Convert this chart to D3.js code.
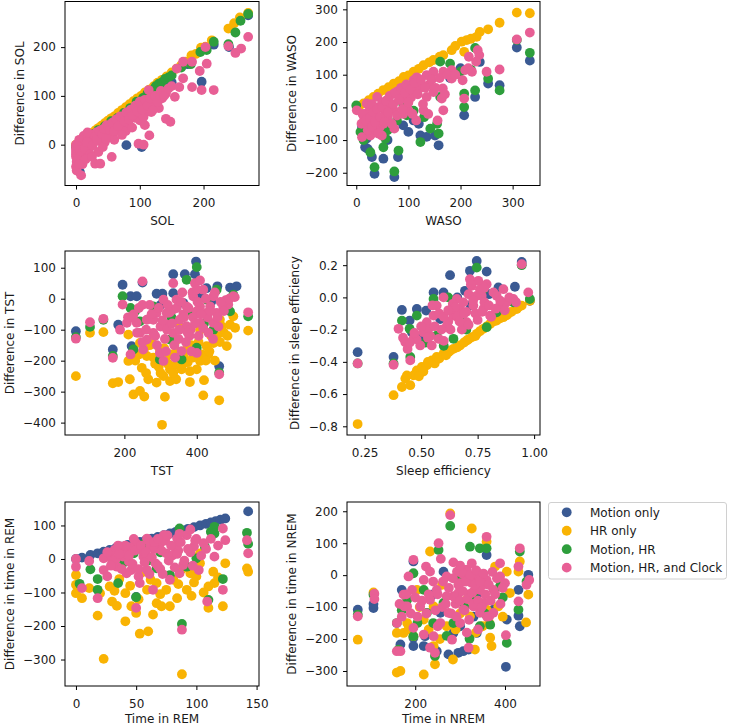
<!DOCTYPE html>
<html><head><meta charset="utf-8">
<script src="https://cdn.jsdelivr.net/npm/d3@7"></script>
<style>
html,body{margin:0;padding:0;background:#fff;}
svg text{font-family:"DejaVu Sans",sans-serif;font-size:12px;fill:#1a1a1a;}
</style></head><body>
<svg id="chart" width="729" height="726"></svg>
<script>
const seriesNames = ["Motion only", "HR only", "Motion, HR", "Motion, HR, and Clock"];
const seriesColors = ["#3a5a93", "#f9b303", "#2e9e3c", "#e85f95"];

// ---- SOL ----
const solMotion = [[6,-56],[79,-1],[103,-5],[197,129],[216,205],[150,128],[0,-2],[30,25],[60,50],[90,80],[120,110],[140,125],[175,165],[240,200],[270,265],[130,112]];
const solHR = [[0,0],[3,2],[6,5],[10,9],[15,14],[20,19],[25,24],[30,29],[35,34],[40,39],[45,44],[50,49],[55,54],[60,58],[66,65],[72,71],[78,77],[84,83],[90,89],[96,95],[102,100],[108,107],[115,113],[122,120],[128,127],[135,133],[142,140],[150,148],[158,156],[165,163],[172,170],[181,183],[188,186],[196,199],[203,201],[213,214],[239,238],[248,249],[257,261],[270,270]];
const solMotionHR = [[0,-5],[2,-20],[5,-28],[8,-30],[10,5],[15,10],[20,12],[28,22],[35,30],[45,38],[55,48],[65,55],[75,65],[85,75],[95,88],[105,96],[112,105],[120,112],[125,120],[130,125],[135,128],[140,135],[145,138],[150,142],[165,158],[180,165],[195,190],[205,194],[216,211],[239,206],[250,230],[258,254],[270,268],[100,60],[80,45],[60,30],[118,88]];
const solClock = [[0,0],[0,-5],[0,-10],[0,-15],[0,-20],[0,-25],[1,-35],[0,-45],[1,-53],[8,-63],[3,-30],[5,-8],[8,-2],[12,-5],[15,2],[20,-10],[25,5],[22,2],[28,12],[30,-39],[38,-39],[35,8],[40,15],[45,20],[50,25],[56,-25],[55,35],[58,22],[62,40],[65,45],[68,30],[70,50],[72,38],[75,55],[78,28],[80,60],[82,45],[85,65],[88,35],[90,70],[92,55],[95,75],[98,2],[100,78],[100,50],[103,62],[106,0],[106,57],[108,40],[110,85],[112,70],[114,112],[115,19],[118,67],[120,90],[125,80],[127,98],[130,75],[135,95],[141,105],[141,53],[148,47],[150,120],[155,98],[158,156],[162,118],[168,136],[168,170],[182,118],[182,170],[194,151],[197,112],[203,200],[205,166],[216,112],[239,202],[250,188],[259,197],[270,221],[18,15],[25,20],[32,25],[40,30],[45,5],[48,40],[35,-15],[42,-5],[60,10],[52,15],[12,18],[18,25],[5,10],
  [3,-3],[6,-12],[10,-15],[14,-8],[17,5],[22,-20],[26,-2],[30,18],[33,10],[37,28],[41,22],[44,33],[47,12],[50,38],[53,30],[57,45],[60,28],[63,52],[66,38],[69,58],[72,20],[76,48],[79,66],[83,52],[86,72],[89,60],[93,80],[96,68],[100,88],[104,72],[108,92],[112,80],[116,95],[120,70],[124,100],[128,88],[133,110],[138,100],[145,115],[10,-40],[15,-30],[25,-25],[5,-40]];

// ---- WASO ----
const wasoMotion = [[333,143],[308,183],[275,68],[253,73],[228,32],[207,-24],[237,139],[158,-116],[123,-86],[100,-75],[80,-152],[73,-213],[52,-157],[35,-203],[30,-152],[17,-122],[11,-60],[22,-127],[135,-90],[110,-40],[151,-86],[60,-100],[90,-55],[45,-80],[20,-95],[120,-50],[180,90],[200,120]];
const wasoHR = [[308,290],[333,288],[275,259],[253,239],[237,231],[231,216],[212,206],[202,201],[207,170],[183,175],[167,160],[148,145],[129,129],[110,109],[91,93],[72,73],[52,53],[33,32],[14,12],[5,3],[120,118],[100,98],[82,80],[62,62],[42,42],[24,22],[160,155],[190,188],[220,210],[140,138]];
const wasoMotionHR = [[333,167],[308,206],[275,52],[253,88],[228,52],[228,182],[207,1],[207,42],[180,134],[161,140],[161,32],[158,-80],[142,-65],[123,-106],[97,-24],[81,-132],[73,-196],[52,-122],[56,-96],[35,-183],[27,-137],[14,-100],[8,-75],[0,6],[46,-40],[78,-40],[155,-50],[130,-30],[110,-10],[60,-70],[25,-60],[90,10],[200,110],[220,115]];
const wasoClock = [[308,208],[333,229],[275,116],[250,109],[233,175],[236,160],[216,155],[222,109],[209,114],[204,83],[207,27],[183,114],[183,88],[167,109],[166,58],[164,27],[167,-9],[156,-40],[148,109],[135,99],[123,79],[110,83],[116,92],[97,63],[84,22],[100,-9],[72,-9],[73,-65],[49,-86],[27,-86],[11,-91],[1,-9],[17,-20],[40,32],[43,1],[59,22],[27,-50],[52,-50],[20,12],[72,42],[135,32],[129,-9],[148,47],[97,32],[110,52],[15,-30],[25,-10],[35,-25],[45,-60],[60,-30],[65,5],[80,50],[90,-20],[105,30],[120,60],[140,70],[30,10],[50,15],[38,-70],[22,-55],[115,-40],[88,40],[55,-10],[10,-50],
  [12,-20],[18,-40],[22,-70],[26,-30],[30,-60],[33,-15],[36,-45],[40,-5],[42,-80],[46,-30],[50,0],[54,-45],[57,20],[61,-15],[64,35],[68,-50],[71,10],[75,45],[78,-25],[82,25],[86,60],[89,-5],[93,45],[96,70],[100,15],[104,55],[108,-20],[112,75],[118,40],[124,85],[128,10],[132,60],[138,-20],[145,85],[152,60],[160,90],[170,40],[175,100],[190,100],[215,120],[230,140]];

// ---- TST ----
const tstMotion = [[66,-105],[168,-164],[195,45],[217,8],[234,8],[250,52],[289,16],[305,16],[335,79],[367,79],[395,79],[398,120],[427,34],[457,40],[492,36],[510,40],[462,-218],[220,-153],[225,-175],[183,-84],[335,18],[363,-14],[300,-20],[410,10],[440,-10]];
const tstHR = [[66,-250],[105,-110],[142,-108],[168,-273],[183,-269],[211,-201],[215,-260],[225,-309],[243,-298],[255,-316],[248,-223],[266,-260],[289,-271],[308,-250],[304,-407],[312,-317],[326,-228],[326,-266],[335,-218],[343,-260],[358,-228],[361,-212],[381,-269],[381,-234],[400,-228],[409,-201],[418,-312],[420,-263],[432,-180],[446,-143],[464,-140],[462,-328],[483,-153],[492,-84],[506,-94],[542,-103],[409,-100],[354,-89],[298,-164],[262,-185],[225,-175],[211,-116],[275,-132],[243,-143],[317,-185],[372,-164],[427,-153],[464,-68],[501,-57],[340,-140],[390,-190],[285,-210],[450,-200],[230,-200],[260,-240],[295,-220],[350,-200],[415,-180],[440,-120],[475,-110],
  [270,-150],[280,-190],[310,-160],[320,-210],[330,-180],[345,-170],[365,-190],[375,-205],[385,-150],[395,-165],[405,-140],[425,-200],[435,-170],[455,-120],[470,-90],[485,-120],[255,-160],[240,-180],[300,-240],[335,-240]];
const tstMotionHR = [[66,-124],[105,-91],[142,-68],[168,-185],[195,8],[217,-30],[225,-164],[358,-196],[372,61],[400,102],[400,-158],[427,-3],[455,29],[492,-41],[542,-57],[462,-239],[501,13],[446,-100],[298,-196],[326,-132],[280,-25],[243,-73],[230,-40],[330,-60],[380,-40],[420,-80]];
const tstClock = [[66,-129],[105,-76],[142,-65],[168,-191],[195,-19],[207,-78],[188,-100],[217,-180],[250,56],[335,50],[358,-169],[400,-175],[395,50],[409,59],[462,-244],[542,-44],[501,8],[308,-201],[298,-175],[262,-132],[252,-164],[280,-110],[317,-84],[335,-35],[363,-51],[390,8],[418,29],[446,8],[427,-46],[372,-89],[409,-78],[446,-78],[335,-110],[289,-46],[262,-68],[234,-78],[243,-110],[308,-3],[317,-46],[344,-3],[372,-25],[409,-25],[437,-25],[455,-46],[473,-25],[487,-19],[353,-68],[280,-68],[225,-51],[300,-90],[320,-20],[350,-130],[380,-120],[400,-40],[430,-60],[270,-20],[240,-30],[360,20],[390,-60],[460,-90],[480,-5],[250,-140],[210,-60],
  [275,-50],[285,-120],[295,-30],[305,-70],[312,-130],[318,-100],[325,-45],[332,-80],[338,-150],[345,-30],[352,-100],[357,-10],[365,-60],[370,-140],[377,-30],[383,-100],[388,20],[395,-80],[402,-10],[405,-120],[412,-50],[418,-95],[425,0],[432,-110],[438,-40],[445,-130],[450,20],[458,-60],[466,-10],[475,-40],[490,0],[505,5],[260,-100],[250,-20],[235,-110],[222,-60],[290,-150],[315,-170],[340,-190],[375,-110],[400,30],[385,-170]];

// ---- Sleep efficiency ----
const seMotion = [[0.219,-0.34],[0.378,-0.37],[0.415,-0.078],[0.449,-0.144],[0.481,-0.072],[0.522,-0.082],[0.555,0.031],[0.599,0.031],[0.628,0.138],[0.694,0.041],[0.716,0.165],[0.746,0.226],[0.79,0.16],[0.842,0.062],[0.915,0.066],[0.945,0.22],[0.981,-0.021],[0.496,-0.257],[0.459,-0.216],[0.584,-0.134],[0.66,0.0],[0.72,-0.05],[0.8,0.02]];
const seHR = [[0.219,-0.786],[0.378,-0.607],[0.415,-0.556],[0.43,-0.504],[0.452,-0.545],[0.481,-0.453],[0.503,-0.432],[0.525,-0.422],[0.547,-0.391],[0.569,-0.37],[0.599,-0.35],[0.621,-0.34],[0.643,-0.319],[0.672,-0.298],[0.702,-0.267],[0.724,-0.247],[0.746,-0.226],[0.775,-0.195],[0.805,-0.165],[0.834,-0.144],[0.864,-0.123],[0.893,-0.093],[0.923,-0.072],[0.945,-0.051],[0.981,-0.021],[0.466,-0.484],[0.437,-0.484],[0.51,-0.46],[0.49,-0.49],[0.56,-0.41],[0.58,-0.38],[0.61,-0.36],[0.66,-0.31],[0.69,-0.28],[0.74,-0.24],[0.79,-0.18],[0.85,-0.13],[0.9,-0.09],[0.53,-0.4],[0.63,-0.33],[0.71,-0.26],[0.76,-0.21],[0.82,-0.15],[0.88,-0.11],[0.93,-0.06]];
const seMotionHR = [[0.219,-0.41],[0.378,-0.41],[0.415,-0.144],[0.449,-0.195],[0.481,-0.113],[0.452,-0.37],[0.555,-0.01],[0.694,-0.154],[0.746,0.185],[0.775,0.051],[0.945,0.2],[0.981,-0.01],[0.643,-0.257],[0.569,-0.237],[0.79,-0.185],[0.834,-0.093],[0.908,-0.031],[0.6,-0.3],[0.52,-0.28],[0.7,-0.2],[0.86,-0.06],[0.62,0.0]];
const seClock = [[0.219,-0.41],[0.378,-0.418],[0.4,-0.195],[0.43,-0.278],[0.452,-0.391],[0.466,-0.257],[0.496,-0.298],[0.51,-0.216],[0.525,-0.154],[0.555,-0.113],[0.577,-0.257],[0.599,0],[0.614,-0.175],[0.643,-0.113],[0.672,-0.072],[0.702,-0.154],[0.724,0.072],[0.716,0.113],[0.753,0.103],[0.768,0.01],[0.79,0.082],[0.82,0.031],[0.849,-0.051],[0.878,-0.031],[0.908,-0.01],[0.974,0.031],[0.945,0.206],[0.569,-0.051],[0.658,-0.01],[0.731,-0.051],[0.775,-0.072],[0.805,-0.113],[0.547,-0.298],[0.533,-0.195],[0.636,-0.072],[0.687,-0.031],[0.746,0.01],[0.834,0.01],[0.864,0.051],[0.59,-0.2],[0.62,-0.15],[0.66,-0.12],[0.7,-0.09],[0.74,-0.1],[0.78,-0.03],[0.58,-0.1],[0.64,-0.04],[0.48,-0.26],[0.54,-0.24],[0.44,-0.32],[0.68,-0.2],
  [0.56,-0.18],[0.6,-0.12],[0.63,-0.2],[0.65,-0.06],[0.67,-0.15],[0.69,-0.1],[0.71,0.02],[0.71,-0.17],[0.73,-0.02],[0.75,-0.14],[0.76,0.05],[0.77,-0.09],[0.8,-0.05],[0.81,-0.12],[0.83,-0.07],[0.85,-0.02],[0.87,-0.08],[0.89,0.0],[0.92,-0.03],[0.6,-0.27],[0.53,-0.25],[0.5,-0.18],[0.47,-0.22],[0.45,-0.28],[0.42,-0.25],[0.55,-0.05],[0.62,-0.08],[0.72,0.08],[0.78,0.06]];

// ---- REM ----
const remMotion = [[0,0],[5,4],[12,12],[18,17],[23,22],[28,27],[33,32],[38,37],[43,42],[48,46],[53,51],[58,56],[63,61],[68,66],[73,71],[78,76],[83,81],[88,85],[93,90],[98,95],[103,100],[108,105],[112,109],[116,113],[120,117],[124,121],[143,142],[50,-113]];
const remHR = [[0,-48],[0,-77],[0,-102],[5,-117],[11,-87],[18,-169],[23,-298],[30,-127],[34,-140],[41,-186],[46,-141],[50,-161],[53,-223],[60,-216],[64,-166],[67,-132],[71,-141],[78,-141],[84,-117],[88,-344],[92,-92],[95,-43],[100,-52],[110,-146],[110,-82],[114,-38],[115,-72],[122,-141],[124,-13],[142,-28],[143,-38],[41,-102],[59,-92],[75,-92],[103,17],[103,-13],[62,-62],[20,-102],[28,-82],[81,-62],[67,-72],[36,-60],[55,-40],[88,-30],[96,-110],[45,-80],[32,-95],[52,-120],[70,-105],[85,-75],[98,-70],[106,-100],[118,-55]];
const remMotionHR = [[3,-74],[12,-31],[18,-60],[18,-92],[35,-72],[50,-114],[88,-194],[112,81],[115,96],[115,76],[122,-60],[142,78],[143,45],[110,-122],[78,-48],[100,2],[67,-28],[86,91],[92,-23],[107,37],[57,47],[48,17],[70,20],[40,-10],[60,-5]];
const remClock = [[0,0],[0,-23],[5,-87],[11,-6],[18,-117],[23,2],[23,-33],[26,-52],[28,17],[32,27],[37,37],[39,7],[44,-8],[46,-33],[50,47],[50,-146],[52,-52],[56,7],[59,61],[62,37],[64,-92],[66,-13],[70,47],[73,71],[75,17],[78,-62],[81,37],[84,61],[88,-211],[89,-18],[92,71],[95,88],[98,37],[102,-33],[106,47],[109,-127],[115,7],[122,91],[122,-92],[124,56],[142,56],[143,17],[53,-72],[59,-33],[34,-23],[42,-43],[86,-43],[40,20],[55,25],[65,30],[80,10],[95,20],[60,55],[70,-30],[45,35],[30,-5],[100,60],[85,25],
  [33,0],[36,15],[38,-30],[41,40],[44,10],[47,-15],[49,25],[52,-30],[54,40],[57,-10],[58,20],[61,-45],[63,5],[65,50],[68,-20],[71,25],[72,-45],[74,55],[77,-5],[79,40],[82,-25],[84,15],[87,50],[90,-5],[93,30],[97,-20],[99,55],[104,10],[108,30],[112,60],[118,40],[26,20],[29,-20],[35,40],[48,60],[68,60],[76,70],[86,75]];

// ---- NREM ----
const nremMotion = [[72,-108],[107,-103],[107,-90],[170,-46],[167,-217],[196,-222],[219,-222],[196,43],[248,-238],[274,-248],[296,-243],[307,-238],[319,-233],[337,-181],[359,63],[341,-56],[374,-108],[404,-139],[402,-287],[430,-46],[433,-160],[452,1],[430,-127],[263,11],[285,-181],[222,-191],[196,-196],[256,-118],[300,-160],[330,-130],[240,-60]];
const nremHR = [[72,-202],[107,-54],[159,-305],[167,-300],[219,-311],[159,-181],[174,-181],[196,-191],[233,74],[241,-222],[244,-279],[278,193],[284,-264],[326,146],[333,-233],[359,105],[367,-196],[370,-222],[378,27],[404,11],[433,43],[430,11],[452,-61],[447,-148],[344,-15],[322,-129],[270,-160],[219,-139],[204,-46],[315,-77],[359,-108],[241,-98],[182,-150],[385,-98],[411,-56],[300,-120],[260,-30],[350,-160],[230,-170],[390,-20],[185,-170],[210,-100],[255,-200],[290,-170],[335,-180],[365,-150],[395,-130]];
const nremMotionHR = [[72,-124],[107,-61],[159,-150],[163,-233],[196,-191],[196,6],[252,79],[278,154],[244,-253],[322,89],[344,84],[359,84],[321,-199],[367,-155],[404,-212],[433,74],[430,-108],[448,-20],[344,-160],[285,-150],[226,-118],[182,-77],[389,-35],[300,-15],[263,-87],[330,-66],[219,-46],[270,-190],[310,-100],[240,-150],[170,-110],[205,-150],[355,-120],[395,-70]];
const nremClock = [[72,-129],[109,-58],[109,-75],[159,-150],[159,-238],[167,-238],[185,-4],[174,-61],[176,-98],[196,48],[196,-165],[219,-186],[224,27],[233,11],[233,-227],[244,-243],[241,-191],[252,100],[257,51],[256,-150],[270,-4],[278,188],[282,-202],[293,11],[300,-25],[315,17],[326,37],[319,-227],[339,-41],[344,-46],[359,120],[365,-129],[389,37],[400,-25],[402,-188],[430,27],[430,-82],[433,84],[448,-30],[454,-15],[211,-98],[233,-77],[285,-66],[307,-108],[330,-98],[352,-87],[374,-46],[389,-4],[270,-66],[248,-46],[182,-98],[193,-46],[219,-15],[304,6],[337,-4],[359,-15],[326,-25],[296,-56],[274,-118],[300,-150],[344,-118],[374,-118],[320,-60],[290,-90],[310,0],[260,-100],[350,-30],
  [262,-20],[268,-90],[275,-40],[280,-120],[284,-10],[288,-70],[292,-130],[296,-30],[300,-80],[303,10],[306,-50],[310,-110],[313,-20],[316,-75],[320,-140],[323,0],[327,-55],[330,-90],[333,-30],[336,15],[340,-80],[344,-20],[348,-100],[352,5],[356,-60],[360,-130],[364,-30],[368,-80],[372,10],[378,-60],[382,-10],[390,-90],[395,-40],[250,-60],[245,-110],[240,-20],[230,-60],[225,-120],[215,-80],[205,-130],[200,-70],[190,-120],[180,-60],[170,-130],[165,-90],[300,30],[285,40],[315,-180],[340,-170],[250,-160]];

// ---- panels ----
const panelXLabels = ["SOL", "WASO", "TST", "Sleep efficiency", "Time in REM", "Time in NREM"];
const panelYLabels = ["Difference in SOL", "Difference in WASO", "Difference in TST", "Difference in sleep efficiency", "Difference in time in REM", "Difference in time in NREM"];
const panelXTicks = [[0,100,200],[0,100,200,300],[200,400],[0.25,0.5,0.75,1.0],[0,50,100,150],[200,400]];
const panelYTicks = [[0,100,200],[-200,-100,0,100,200,300],[-400,-300,-200,-100,0,100],[-0.8,-0.6,-0.4,-0.2,0.0,0.2],[-300,-200,-100,0,100],[-300,-200,-100,0,100,200]];
const panelData = [
  [solMotion, solHR, solMotionHR, solClock],
  [wasoMotion, wasoHR, wasoMotionHR, wasoClock],
  [tstMotion, tstHR, tstMotionHR, tstClock],
  [seMotion, seHR, seMotionHR, seClock],
  [remMotion, remHR, remMotionHR, remClock],
  [nremMotion, nremHR, nremMotionHR, nremClock]
];
// axis limits (as matplotlib auto-scaled them)
const panelXDomain = [[-17.3,287],[-17.8,352.5],[35.9,572],[0.172,1.026],[-9.1,152],[48,478]];
const panelYDomain = [[-83.7,293.5],[-239,324],[-440,154],[-0.854,0.288],[-379,170],[-347,229]];
const xFormats = [",d", ",d", ",d", ".2f", ",d", ",d"];
const yFormats = [",d", ",d", ",d", ".1f", ",d", ",d"];

// layout
const colLeft = [65, 347];
const colWidth = [194, 193];
const rowTop = [1.5, 251, 502];
const rowHeight = 184;
const xLabelOffset = [39.5, 39.5, 37];
const R = 4.9;

const svg = d3.select("#chart");

panelData.forEach((series, i) => {
  const col = i % 2, row = Math.floor(i / 2);
  const left = colLeft[col], top = rowTop[row], w = colWidth[col], h = rowHeight;
  const x = d3.scaleLinear().domain(panelXDomain[i]).range([0, w]);
  const y = d3.scaleLinear().domain(panelYDomain[i]).range([h, 0]);
  const g = svg.append("g").attr("transform", `translate(${left},${top})`);

  series.forEach((pts, s) => {
    g.append("g").selectAll("circle").data(pts).join("circle")
      .attr("cx", d => x(d[0])).attr("cy", d => y(d[1])).attr("r", R)
      .attr("fill", seriesColors[s]);
  });

  g.append("rect").attr("x", 0).attr("y", 0).attr("width", w).attr("height", h)
    .attr("fill", "none").attr("stroke", "#000").attr("stroke-width", 1);

  const xa = g.append("g").attr("transform", `translate(0,${h})`)
    .call(d3.axisBottom(x).tickValues(panelXTicks[i]).tickFormat(d3.format(xFormats[i])).tickSize(4).tickPadding(9).tickSizeOuter(0));
  const ya = g.append("g")
    .call(d3.axisLeft(y).tickValues(panelYTicks[i]).tickFormat(d3.format(yFormats[i])).tickSize(4).tickPadding(5).tickSizeOuter(0));
  [xa, ya].forEach(a => {
    a.attr("font-size", null).attr("font-family", null);
    a.select(".domain").remove();
    a.selectAll(".tick line").attr("stroke", "#000").attr("stroke-width", 1);
    a.selectAll(".tick text").attr("fill", "#1a1a1a");
  });

  g.append("text").attr("x", w / 2).attr("y", h + xLabelOffset[row]).attr("text-anchor", "middle").text(panelXLabels[i]);

  let maxW = 0;
  ya.selectAll(".tick text").each(function () { maxW = Math.max(maxW, this.getComputedTextLength()); });
  const bx = -(9 + maxW + 9.5);
  g.append("text").attr("transform", `translate(${bx},${h / 2}) rotate(-90)`)
    .attr("text-anchor", "middle").text(panelYLabels[i]);
});

// legend
const lg = svg.append("g").attr("transform", "translate(548,502)");
lg.append("rect").attr("x", 0.5).attr("y", 0.5).attr("width", 178).attr("height", 76.5).attr("rx", 2.5)
  .attr("fill", "#fff").attr("stroke", "#d0d0d0").attr("stroke-width", 1);
seriesNames.forEach((name, k) => {
  const yy = 10.3 + k * 18.45;
  lg.append("circle").attr("cx", 18.7).attr("cy", yy).attr("r", R).attr("fill", seriesColors[k]);
  lg.append("text").attr("x", 42).attr("y", yy).attr("dy", "0.36em").text(name);
});
</script>
</body></html>
